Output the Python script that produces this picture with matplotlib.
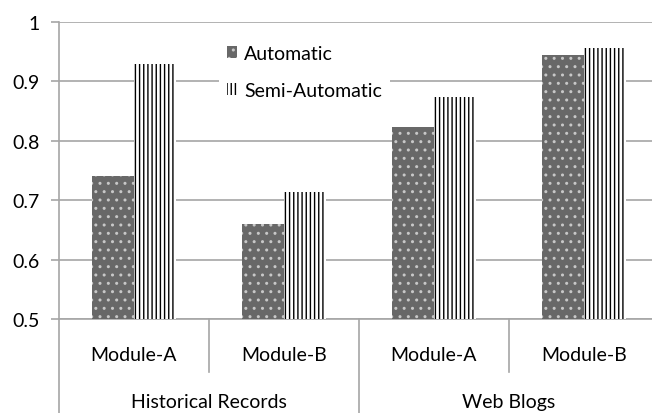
import numpy as np
import matplotlib.pyplot as plt
from matplotlib.patches import Patch

groups = ['Historical Records', 'Web Blogs']
modules = ['Module-A', 'Module-B', 'Module-A', 'Module-B']
automatic = [0.741, 0.660, 0.824, 0.944]
semi_automatic = [0.930, 0.713, 0.874, 0.956]
yticks = [0.5, 0.6, 0.7, 0.8, 0.9, 1.0]
ylabels = ['0.5', '0.6', '0.7', '0.8', '0.9', '1']

plt.rcParams['font.family'] = ['Lato', 'DejaVu Sans']
plt.rcParams['hatch.linewidth'] = 1.0
fs = 14

fig = plt.figure(figsize=(6.52, 4.14), dpi=100)
ax = fig.add_axes([59 / 652, 94 / 414, 600 / 652, 297 / 414])

grid_c = '#a6a6a6'
x = np.arange(len(modules)) + 0.5
w = 0.28
auto_face = '#686868'
auto_hatch = '#c8c8c8'
ax.bar(x - w / 2, np.array(automatic) - 0.5, w, bottom=0.5, color=auto_face,
       edgecolor=auto_hatch, hatch='..', linewidth=0, zorder=3)
ax.bar(x + w / 2, np.array(semi_automatic) - 0.5, w, bottom=0.5, color='white',
       edgecolor='black', hatch='||||', linewidth=0, zorder=3)

ax.set_xlim(0, 4)
ax.set_ylim(0.5, 1.0)
ax.set_yticks(yticks)
ax.set_yticklabels(ylabels, fontsize=fs)
ax.yaxis.grid(True, color=grid_c, linewidth=1.2, zorder=0)
ax.tick_params(axis='y', length=6, color=grid_c, width=1.2, pad=8)
ax.tick_params(axis='x', length=0, labelbottom=False)
for s in ['top', 'right']:
    ax.spines[s].set_visible(False)
ax.spines['left'].set_color(grid_c)
ax.spines['left'].set_linewidth(1.2)
ax.spines['bottom'].set_color(grid_c)
ax.spines['bottom'].set_linewidth(1.2)

# multi-level category axis
trans = ax.get_xaxis_transform()
for i, m in enumerate(modules):
    ax.text(x[i], -0.118, m, transform=trans, ha='center', va='center', fontsize=fs)
for b in [1, 3]:
    ax.plot([b, b], [0, -0.178], transform=trans, color=grid_c, lw=1.2, clip_on=False)
for b in [0, 2, 4]:
    ax.plot([b, b], [0, -0.32], transform=trans, color=grid_c, lw=1.2, clip_on=False)
for g, gx in zip(groups, [1, 3]):
    ax.text(gx, -0.278, g, transform=trans, ha='center', va='center', fontsize=fs)

handles = [Patch(facecolor=auto_face, edgecolor=auto_hatch, hatch='..', linewidth=0),
           Patch(facecolor='white', edgecolor='black', hatch='||||', linewidth=0)]
leg = ax.legend(handles, ['Automatic', 'Semi-Automatic'], loc='upper left',
                bbox_to_anchor=(160 / 600, 0.95), fontsize=fs, frameon=True,
                handlelength=0.55, handleheight=0.55, handletextpad=0.35,
                labelspacing=1.05, borderaxespad=0, fancybox=False)
leg.get_frame().set_edgecolor('none')
leg.get_frame().set_facecolor('white')
leg.get_frame().set_alpha(1)
leg.set_zorder(5)

fig.savefig('out.png', dpi=100)
